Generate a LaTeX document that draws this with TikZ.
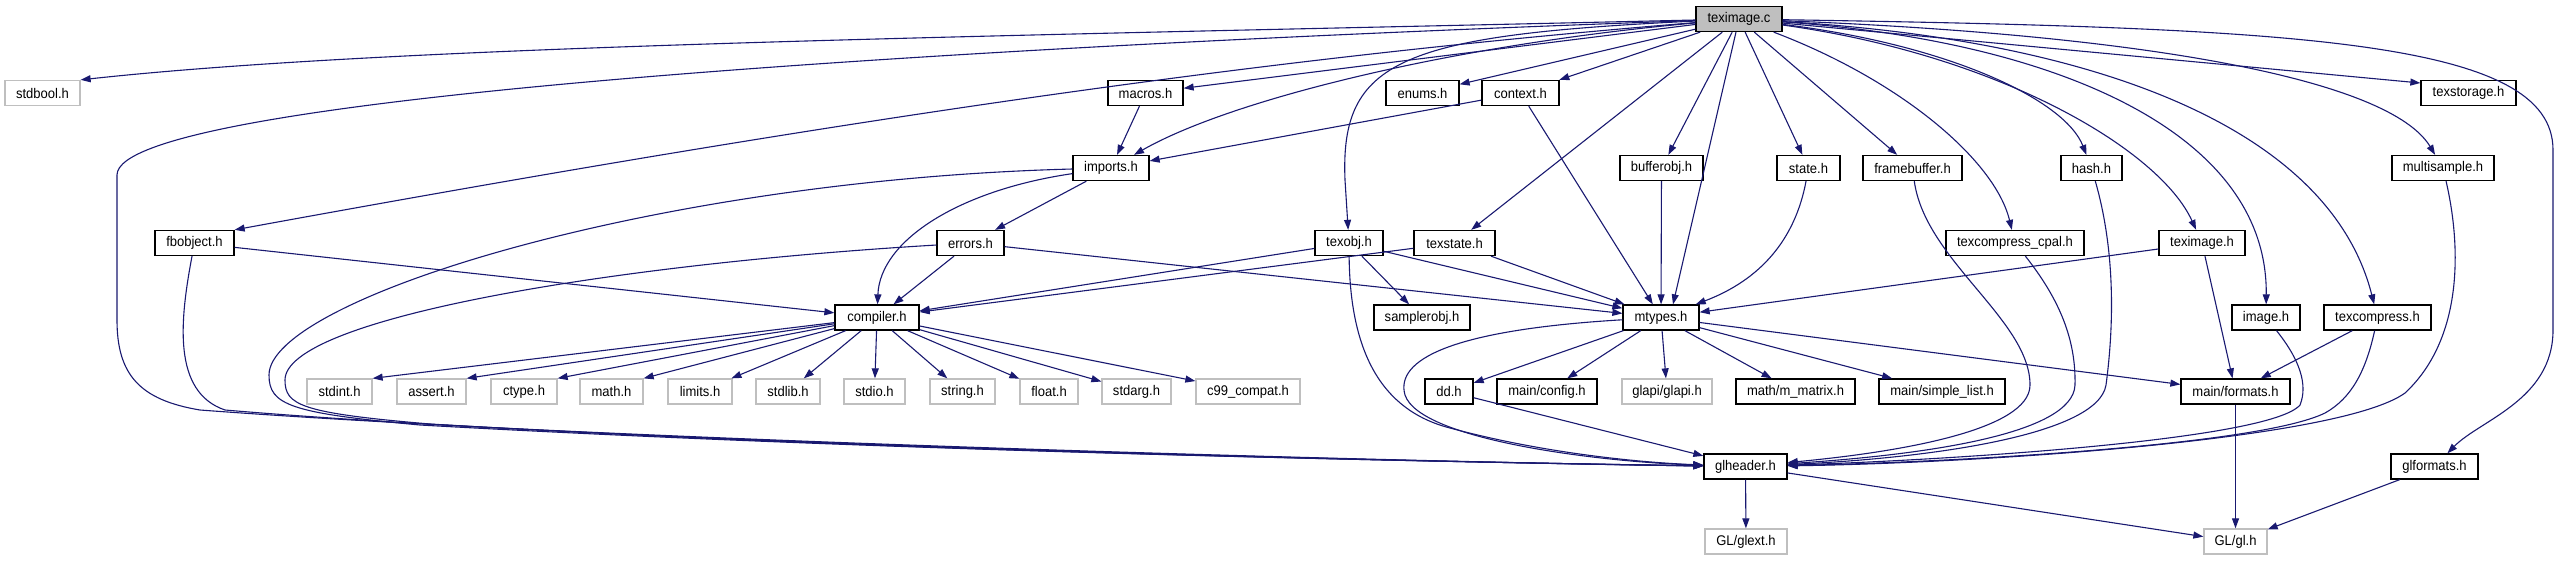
\documentclass[tikz,border=0pt]{standalone}
\usepackage{fontspec}
\setmainfont{Liberation Sans}[FakeStretch=0.93]
\usetikzlibrary{arrows.meta,calc}
\definecolor{edgec}{HTML}{191970}
\definecolor{gborder}{HTML}{BFBFBF}
\definecolor{gfill}{HTML}{BFBFBF}
\tikzset{
 hbox/.style={draw=black, fill=white, line width=1.3pt, minimum height=25pt, inner sep=0pt, font=\fontsize{14}{16}\selectfont},
 sbox/.style={hbox, draw=gborder},
 dep/.style={draw=edgec, line width=1.1pt, -{Triangle[length=10pt,width=7pt]}},
}
\begin{document}
\begin{tikzpicture}[x=1pt,y=-1pt]
\useasboundingbox (0,0) rectangle (2565,560);
% row 1
\node[hbox, fill=gfill, minimum width=86pt] (tc) at (1739,19) {teximage.c};
% row 2
\node[sbox, minimum width=75pt] (stdbool) at (42.5,93) {stdbool.h};
\node[hbox, minimum width=75pt] (macros) at (1145.5,93) {macros.h};
\node[hbox, minimum width=73pt] (enums) at (1422.5,93) {enums.h};
\node[hbox, minimum width=77pt] (context) at (1520.5,93) {context.h};
\node[hbox, minimum width=95pt] (texstorage) at (2468.5,93) {texstorage.h};
% row 3
\node[hbox, minimum width=76pt] (imports) at (1111,168) {imports.h};
\node[hbox, minimum width=83pt] (bufferobj) at (1661.5,168) {bufferobj.h};
\node[hbox, minimum width=63pt] (state) at (1808.5,168) {state.h};
\node[hbox, minimum width=99pt] (framebuffer) at (1912.5,168) {framebuffer.h};
\node[hbox, minimum width=61pt] (hash) at (2091.5,168) {hash.h};
\node[hbox, minimum width=102pt] (multisample) at (2443,168) {multisample.h};
% row 4
\node[hbox, minimum width=79pt] (fbobject) at (194.5,243) {fbobject.h};
\node[hbox, minimum width=67pt] (errors) at (970.5,243) {errors.h};
\node[hbox, minimum width=68pt] (texobj) at (1349,243) {texobj.h};
\node[hbox, minimum width=81pt] (texstate) at (1454.5,243) {texstate.h};
\node[hbox, minimum width=138pt] (cpal) at (2015,243) {texcompress\_cpal.h};
\node[hbox, minimum width=86pt] (teximageh) at (2202,243) {teximage.h};
% row 5
\node[hbox, minimum width=84pt] (compiler) at (877,317.5) {compiler.h};
\node[hbox, minimum width=96pt] (samplerobj) at (1422,317.5) {samplerobj.h};
\node[hbox, minimum width=76pt] (mtypes) at (1661,317.5) {mtypes.h};
\node[hbox, minimum width=68pt] (image) at (2266,317.5) {image.h};
\node[hbox, minimum width=107pt] (texcompress) at (2377.5,317.5) {texcompress.h};
% row 6
\node[sbox, minimum width=65pt] (stdint) at (339.5,391.5) {stdint.h};
\node[sbox, minimum width=69pt] (assert) at (431.5,391.5) {assert.h};
\node[sbox, minimum width=66pt] (ctype) at (524,391.5) {ctype.h};
\node[sbox, minimum width=63pt] (math) at (611.5,391.5) {math.h};
\node[sbox, minimum width=64pt] (limits) at (700,391.5) {limits.h};
\node[sbox, minimum width=64pt] (stdlib) at (788,391.5) {stdlib.h};
\node[sbox, minimum width=61pt] (stdio) at (874.5,391.5) {stdio.h};
\node[sbox, minimum width=65pt] (string) at (962.5,391.5) {string.h};
\node[sbox, minimum width=58pt] (float) at (1049,391.5) {float.h};
\node[sbox, minimum width=69pt] (stdarg) at (1136.5,391.5) {stdarg.h};
\node[sbox, minimum width=104pt] (c99) at (1248,391.5) {c99\_compat.h};
\node[hbox, minimum width=48pt] (dd) at (1449,391.5) {dd.h};
\node[hbox, minimum width=100pt] (config) at (1547,391.5) {main/config.h};
\node[sbox, minimum width=90pt] (glapi) at (1667,391.5) {glapi/glapi.h};
\node[hbox, minimum width=119pt] (mmatrix) at (1795.5,391.5) {math/m\_matrix.h};
\node[hbox, minimum width=126pt] (simplelist) at (1942,391.5) {main/simple\_list.h};
\node[hbox, minimum width=109pt] (formats) at (2235.5,391.5) {main/formats.h};
% row 7
\node[hbox, minimum width=83pt] (glheader) at (1745.5,466.5) {glheader.h};
\node[hbox, minimum width=87pt] (glformats) at (2434.5,466.5) {glformats.h};
% row 8
\node[sbox, minimum width=82pt] (glext) at (1746,541.5) {GL/glext.h};
\node[sbox, minimum width=63pt] (gl) at (2235.5,541.5) {GL/gl.h};

% edges from teximage.c
\draw[dep] (tc) .. controls (1000,36) and (400,45) .. (stdbool.north east);
\draw[dep] (tc) .. controls (1000,45) and (117,95) .. (117,175) -- (117,320) .. controls (117,375) and (140,400) .. (200,410) .. controls (600,440) and (1400,462) .. (glheader);
\draw[dep] (tc) .. controls (1300,55) and (900,108) .. (fbobject.north east);
\draw[dep] (tc) -- (macros);
\draw[dep] (tc) .. controls (1450,45) and (1230,100) .. (imports);
\draw[dep] (tc) -- (enums);
\draw[dep] (tc) -- (context);
\draw[dep] (tc) .. controls (1400,35) and (1340,60) .. (1345,180) -- (texobj);
\draw[dep] (tc) -- (bufferobj);
\draw[dep] (tc) -- ($(mtypes.north)+(12,0)$);
\draw[dep] (tc) -- (state);
\draw[dep] (tc) -- (framebuffer);
\draw[dep] (tc) -- (texstate);
\draw[dep] (tc) .. controls (1900,80) and (1995,160) .. (cpal);
\draw[dep] (tc) .. controls (1950,45) and (2065,100) .. (hash);
\draw[dep] (tc) .. controls (2000,55) and (2160,150) .. (teximageh);
\draw[dep] (tc) .. controls (2050,40) and (2268,130) .. (image);
\draw[dep] (tc) .. controls (2100,40) and (2330,130) .. (texcompress);
\draw[dep] (tc) .. controls (2150,35) and (2390,80) .. (multisample);
\draw[dep] (tc) -- ($(texstorage.west)+(0,-10)$);
\draw[dep] (tc) .. controls (2300,28) and (2553,40) .. (2553,150) -- (2553,330) .. controls (2553,400) and (2480,420) .. (glformats);

% second level
\draw[dep] (macros) -- (imports);
\draw[dep] (context) -- (imports);
\draw[dep] (context) -- (mtypes);
\draw[dep] (imports) -- (errors);
\draw[dep] (imports) .. controls (960,190) and (880,240) .. (compiler);
\draw[dep] (imports) .. controls (650,180) and (269,300) .. (269,375) .. controls (269,405) and (290,413) .. (420,425) .. controls (900,452) and (1450,462) .. (glheader);
\draw[dep] (errors) -- (compiler);
\draw[dep] (errors) -- (mtypes);
\draw[dep] (errors) .. controls (600,265) and (285,320) .. (285,380) .. controls (285,405) and (300,413) .. (430,424) .. controls (900,452) and (1450,462) .. (glheader);
\draw[dep] (fbobject) -- (compiler);
\draw[dep] (fbobject) .. controls (180,320) and (172,392) .. (225,410) .. controls (600,442) and (1400,462) .. (glheader);
\draw[dep] (texobj) -- (compiler);
\draw[dep] (texstate) -- (compiler);
\draw[dep] (texobj) -- (samplerobj);
\draw[dep] (texobj) -- (mtypes);
\draw[dep] (texstate) -- (mtypes);
\draw[dep] (texobj) .. controls (1350,350) and (1380,410) .. (1450,428) .. controls (1550,455) and (1650,463) .. (glheader);
\draw[dep] (bufferobj) -- (mtypes);
\draw[dep] (state) .. controls (1795,240) and (1760,280) .. (mtypes);
\draw[dep] (teximageh) -- (mtypes);
\draw[dep] (teximageh) -- (formats);

% compiler.h
\draw[dep] (compiler) -- (stdint.north east);
\draw[dep] (compiler) -- (assert.north east);
\draw[dep] (compiler) -- (ctype.north east);
\draw[dep] (compiler) -- (math.north east);
\draw[dep] (compiler) -- (limits);
\draw[dep] (compiler) -- (stdlib);
\draw[dep] (compiler) -- (stdio);
\draw[dep] (compiler) -- (string);
\draw[dep] (compiler) -- (float);
\draw[dep] (compiler) -- (stdarg);
\draw[dep] (compiler) -- (c99);

% mtypes.h
\draw[dep] (mtypes) -- (dd);
\draw[dep] (mtypes) -- (config);
\draw[dep] (mtypes) -- (glapi);
\draw[dep] (mtypes) -- (mmatrix);
\draw[dep] (mtypes) -- (simplelist);
\draw[dep] (mtypes) -- (formats);
\draw[dep] (mtypes) .. controls (1450,330) and (1395,360) .. (1405,395) .. controls (1420,440) and (1600,462) .. (glheader);
\draw[dep] (dd) -- (glheader);

% right side into glheader.h
\draw[dep] (framebuffer) .. controls (1925,260) and (2030,320) .. (2030,385) .. controls (2030,430) and (1900,452) .. (glheader);
\draw[dep] (cpal) .. controls (2060,300) and (2076,340) .. (2075,385) .. controls (2073,435) and (1920,455) .. (glheader);
\draw[dep] (hash) .. controls (2118,260) and (2112,340) .. (2106,385) .. controls (2098,435) and (1930,458) .. (glheader);
\draw[dep] (image) .. controls (2300,360) and (2308,385) .. (2300,405) .. controls (2270,440) and (1950,460) .. (glheader);
\draw[dep] (texcompress) .. controls (2366,370) and (2352,398) .. (2325,413) .. controls (2260,445) and (1960,462) .. (glheader);
\draw[dep] (multisample) .. controls (2462,250) and (2462,340) .. (2405,393) .. controls (2340,440) and (1980,463) .. (glheader);
\draw[dep] (texcompress) -- (formats);

% bottom
\draw[dep] (formats) -- (gl);
\draw[dep] (glheader) -- (glext);
\draw[dep] (glheader) -- (gl);
\draw[dep] (glformats) -- (gl);
\end{tikzpicture}
\end{document}
